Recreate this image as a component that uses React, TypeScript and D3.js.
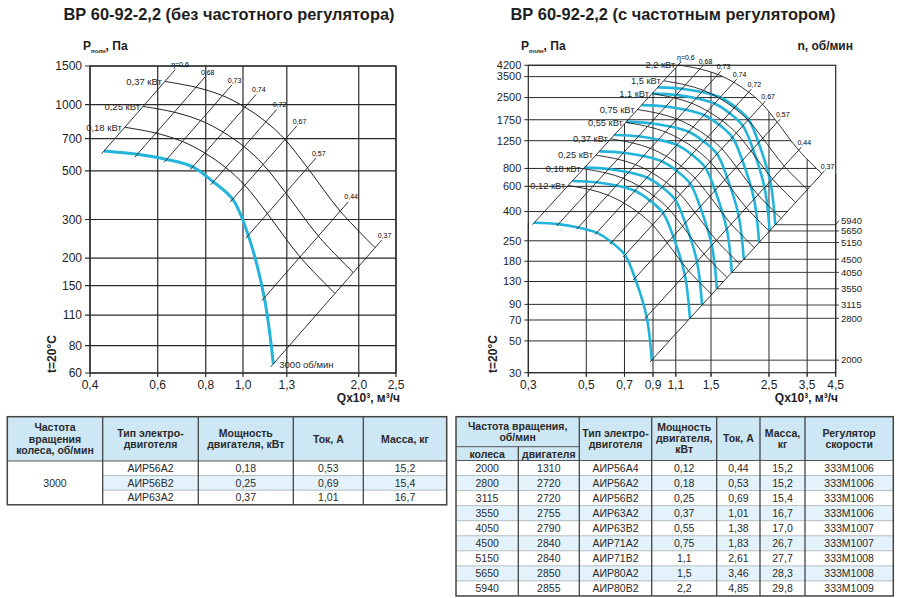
import React from 'react';
import * as d3 from 'd3';

type Pt = [number, number];

const FONT = '"Liberation Sans", Arial, Helvetica, sans-serif';
const BLUE = '#22b4da';
const INK = '#1e1e1e';
const HEAD_BG = '#cde7f5';
const ALT_BG = '#e4f3fb';

// ---------- common: efficiency lines ----------
const etaValues = [0.6, 0.68, 0.73, 0.74, 0.72, 0.67, 0.57, 0.44, 0.37];
const etaLabels = ['η=0,6', '0,68', '0,73', '0,74', '0,72', '0,67', '0,57', '0,44', '0,37'];

// ---------- left chart (3000 rpm) ----------
const leftTitle = 'ВР 60-92-2,2 (без частотного регулятора)';
const leftXTicks = [0.4, 0.6, 0.8, 1.0, 1.3, 2.0, 2.5];
const leftXTickLabels = ['0,4', '0,6', '0,8', '1,0', '1,3', '2,0', '2,5'];
const leftYTicks = [1500, 1000, 700, 500, 300, 200, 150, 110, 80, 60];
// fan curve at 3000 rpm: points where it meets each efficiency line (Q x10^3 m3/h, P Pa)
const leftFanQ = [0.435, 0.531, 0.633, 0.74, 0.837, 0.94, 1.032, 1.136, 1.199];
const leftFanP = [615, 594, 563, 521, 445, 371, 254, 132, 66];
// flow at the upper end of each efficiency line
const leftEtaTopQ = [0.666, 0.796, 0.935, 1.081, 1.224, 1.379, 1.548, 1.879, 2.295];
const leftPowerKW = [0.18, 0.25, 0.37];
const leftPowerLabels = ['0,18 кВт', '0,25 кВт', '0,37 кВт'];
const leftSpeedLabel = '3000 об/мин';

// ---------- right chart (with frequency regulator) ----------
const rightTitle = 'ВР 60-92-2,2 (с частотным регулятором)';
const rightXTicks = [0.3, 0.5, 0.7, 0.9, 1.1, 1.5, 2.5, 3.5, 4.5];
const rightXTickLabels = ['0,3', '0,5', '0,7', '0,9', '1,1', '1,5', '2,5', '3,5', '4,5'];
const rightYTicks = [4200, 3500, 2500, 1750, 1250, 800, 600, 400, 250, 180, 130, 90, 70, 50, 30];
const rightBaseSpeed = 2000;
// fan curve at 2000 rpm: points where it meets each efficiency line
const rightFanQ = [0.316, 0.391, 0.466, 0.548, 0.625, 0.703, 0.768, 0.851, 0.89];
const rightFanP = [334, 327, 310, 285, 244, 199, 137, 73.7, 36.7];
const rightSpeeds = [2000, 2800, 3115, 3550, 4050, 4500, 5150, 5650, 5940];
const rightPowerKW = [0.12, 0.18, 0.25, 0.37, 0.55, 0.75, 1.1, 1.5, 2.2];
const rightPowerLabels = ['0,12 кВт', '0,18 кВт', '0,25 кВт', '0,37 кВт', '0,55 кВт', '0,75 кВт', '1,1 кВт', '1,5 кВт', '2,2 кВт'];

// ---------- tables ----------
const leftWheelRpm = '3000';
const leftMotorType = ['АИР56А2', 'АИР56В2', 'АИР63А2'];
const leftMotorPower = ['0,18', '0,25', '0,37'];
const leftCurrent = ['0,53', '0,69', '1,01'];
const leftMass = ['15,2', '15,4', '16,7'];

const rightWheelRpm = ['2000', '2800', '3115', '3550', '4050', '4500', '5150', '5650', '5940'];
const rightMotorRpm = ['1310', '2720', '2720', '2755', '2790', '2840', '2840', '2850', '2855'];
const rightMotorType = ['АИР56А4', 'АИР56А2', 'АИР56В2', 'АИР63А2', 'АИР63В2', 'АИР71А2', 'АИР71В2', 'АИР80А2', 'АИР80В2'];
const rightMotorPower = ['0,12', '0,18', '0,25', '0,37', '0,55', '0,75', '1,1', '1,5', '2,2'];
const rightCurrent = ['0,44', '0,53', '0,69', '1,01', '1,38', '1,83', '2,61', '3,46', '4,85'];
const rightMass = ['15,2', '15,2', '15,4', '16,7', '17,0', '26,7', '27,7', '28,3', '29,8'];
const rightRegulator = ['333М1006', '333М1006', '333М1006', '333М1006', '333М1007', '333М1007', '333М1008', '333М1008', '333М1009'];

// fan laws: Q ~ n, P ~ n^2, N ~ n^3
const scaleFan = (p: Pt, r: number): Pt => [p[0] * r, p[1] * r * r];
const shaftKW = (q: number, p: number, eta: number) => ((q * 1000) / 3600) * p / eta / 1000;

function PLabel({ x, y }: { x: number; y: number }) {
  return (
    <text x={x} y={y} fontSize={12} fontWeight="bold" fill={INK}>
      P<tspan fontSize={6} dy={2.5}>полн</tspan>
      <tspan dy={-2.5}>, Па</tspan>
    </text>
  );
}

function LeftChart() {
  const X0 = 90, X1 = 396, Y0 = 66, Y1 = 373;
  const x = d3.scaleLog().domain([0.4, 2.5]).range([X0, X1]);
  const y = d3.scaleLog().domain([60, 1500]).range([Y1, Y0]);
  const line = d3.line<Pt>().x(d => x(d[0])).y(d => y(d[1])).curve(d3.curveCatmullRom.alpha(0.5));
  const base: Pt[] = leftFanQ.map((q, i) => [q, leftFanP[i]]);
  const n0 = base.map((b, i) => shaftKW(b[0], b[1], etaValues[i]));
  const arcs = leftPowerKW.map(N => base.map((b, i) => scaleFan(b, Math.cbrt(N / n0[i]))));
  const diags = base.map((b, i) => [scaleFan(b, 0.985), scaleFan(b, leftEtaTopQ[i] / b[0])] as Pt[]);
  const end = base[base.length - 1];
  return (
    <g>
      <text x={229} y={20} textAnchor="middle" fontSize={16.4} fontWeight="bold" fill={INK}>{leftTitle}</text>
      <PLabel x={83} y={50} />
      {leftYTicks.map(t => (
        <g key={t}>
          <line x1={X0 - 5} x2={X1} y1={y(t)} y2={y(t)} stroke="#2a2a2a" strokeWidth={1.2} />
          <text x={X0 - 8} y={y(t)} dy="0.35em" textAnchor="end" fontSize={12} fill={INK}>{t}</text>
        </g>
      ))}
      {leftXTicks.map((t, i) => (
        <g key={t}>
          <line x1={x(t)} x2={x(t)} y1={Y0} y2={Y1 + 4} stroke="#2a2a2a" strokeWidth={1.2} />
          <text x={x(t)} y={389} textAnchor="middle" fontSize={12} fill={INK}>{leftXTickLabels[i]}</text>
        </g>
      ))}
      <rect x={X0} y={Y0} width={X1 - X0} height={Y1 - Y0} fill="none" stroke="#2a2a2a" strokeWidth={1.3} />
      <path d={line(base) || ''} fill="none" stroke={BLUE} strokeWidth={3} />
      {arcs.map((a, i) => (
        <path key={i} d={line(a) || ''} fill="none" stroke={INK} strokeWidth={1} />
      ))}
      {diags.map((d, i) => (
        <line key={i} x1={x(d[0][0])} y1={y(d[0][1])} x2={x(d[1][0])} y2={y(d[1][1])} stroke={INK} strokeWidth={0.9} />
      ))}
      {diags.map((d, i) => (
        <text key={i} x={x(d[1][0]) - 4} y={y(d[1][1]) - 2.5} fontSize={7} fill="#000">{etaLabels[i]}</text>
      ))}
      {arcs.map((a, i) => (
        <text key={i} x={x(a[0][0]) - 3} y={y(a[0][1])} dy="0.35em" textAnchor="end" fontSize={9.5} fill={INK}>{leftPowerLabels[i]}</text>
      ))}
      <text x={x(end[0]) + 6} y={y(end[1]) + 4} fontSize={9.5} fill={INK}>{leftSpeedLabel}</text>
      <text transform={`translate(56,354) rotate(-90)`} textAnchor="middle" fontSize={12} fontWeight="bold" fill={INK}>t=20°C</text>
      <text x={400} y={402} textAnchor="end" fontSize={12} fontWeight="bold" fill={INK}>Qx10³, м³/ч</text>
    </g>
  );
}

function RightChart() {
  const X0 = 528.3, X1 = 835.7, Y0 = 65.3, Y1 = 372.7;
  const x = d3.scaleLog().domain([0.3, 4.5]).range([X0, X1]);
  const y = d3.scaleLog().domain([30, 4200]).range([Y1, Y0]);
  const line = d3.line<Pt>().x(d => x(d[0])).y(d => y(d[1])).curve(d3.curveCatmullRom.alpha(0.5));
  const base: Pt[] = rightFanQ.map((q, i) => [q, rightFanP[i]]);
  const n0 = base.map((b, i) => shaftKW(b[0], b[1], etaValues[i]));
  const arcs = rightPowerKW.map(N => base.map((b, i) => scaleFan(b, Math.cbrt(N / n0[i]))));
  const maxN = rightPowerKW[rightPowerKW.length - 1];
  const outer = arcs[arcs.length - 1];
  const diags = base.map((b, i) => [scaleFan(b, 0.985), scaleFan(b, Math.cbrt(maxN / n0[i]) * 1.025)] as Pt[]);
  const curves = rightSpeeds.map(n => base.map(b => scaleFan(b, n / rightBaseSpeed)));
  const px = (p: Pt) => [x(p[0]), y(p[1])];
  const outerPath = (line(outer) || '').replace(/^M/, 'L');
  const lo06 = px(base[0]);
  const lo037 = px(base[base.length - 1]);
  const outerEnd = px(outer[outer.length - 1]);
  const outerStart = px(outer[0]);
  const vClip = `M${X0 - 2},${Y1 + 8}L${X0 - 2},${lo06[1]}L${lo06[0]},${lo06[1]}${outerPath}L${X1 + 2},${outerEnd[1]}L${X1 + 2},${Y1 + 8}Z`;
  const hClip = `M${X0 - 12},${Y0 - 3}L${outerStart[0]},${Y0 - 3}${outerPath}L${lo037[0]},${lo037[1]}L${lo037[0]},${Y1 + 3}L${X0 - 12},${Y1 + 3}Z`;

  const ends = curves.map(c => px(c[c.length - 1]));
  const labelY = ends.map(e => e[1]);
  for (let i = 1; i < labelY.length; i++) labelY[i] = Math.min(labelY[i], labelY[i - 1] - 10.5);

  return (
    <g>
      <defs>
        <clipPath id="rvclip"><path d={vClip} /></clipPath>
        <clipPath id="rhclip"><path d={hClip} /></clipPath>
      </defs>
      <text x={673} y={20} textAnchor="middle" fontSize={16.4} fontWeight="bold" fill={INK}>{rightTitle}</text>
      <PLabel x={521} y={50} />
      <text x={853} y={50} textAnchor="end" fontSize={12} fontWeight="bold" fill={INK}>n, об/мин</text>
      <g clipPath="url(#rhclip)">
        {rightYTicks.map(t => (
          <line key={t} x1={X0 - 4} x2={X1} y1={y(t)} y2={y(t)} stroke="#2a2a2a" strokeWidth={1} />
        ))}
      </g>
      <g clipPath="url(#rvclip)">
        {rightXTicks.map(t => (
          <line key={t} x1={x(t)} x2={x(t)} y1={Y0} y2={Y1 + 4} stroke="#2a2a2a" strokeWidth={1} />
        ))}
      </g>
      {rightYTicks.map(t => (
        <text key={t} x={X0 - 7} y={y(t)} dy="0.35em" textAnchor="end" fontSize={11} fill={INK}>{t}</text>
      ))}
      {rightXTicks.map((t, i) => (
        <g key={t}>
          <line x1={x(t)} x2={x(t)} y1={Y1} y2={Y1 + 4} stroke="#2a2a2a" strokeWidth={1} />
          <text x={x(t)} y={389} textAnchor="middle" fontSize={12} fill={INK}>{rightXTickLabels[i]}</text>
        </g>
      ))}
      <rect x={X0} y={Y0} width={X1 - X0} height={Y1 - Y0} fill="none" stroke="#2a2a2a" strokeWidth={1.2} />
      {curves.map((c, i) => (
        <path key={i} d={line(c) || ''} fill="none" stroke={BLUE} strokeWidth={2.6} />
      ))}
      {arcs.map((a, i) => (
        <path key={i} d={line(a) || ''} fill="none" stroke={INK} strokeWidth={0.9} />
      ))}
      {diags.map((d, i) => (
        <line key={i} x1={x(d[0][0])} y1={y(d[0][1])} x2={x(d[1][0])} y2={y(d[1][1])} stroke={INK} strokeWidth={0.9} />
      ))}
      {diags.map((d, i) => (
        <text key={i} x={x(d[1][0]) - 4} y={y(d[1][1]) - 2} fontSize={7} fill="#000">{etaLabels[i]}</text>
      ))}
      {arcs.map((a, i) => (
        <text key={i} x={x(a[0][0]) - 3} y={y(a[0][1])} dy="0.35em" textAnchor="end" fontSize={9.3} fill={INK}>{rightPowerLabels[i]}</text>
      ))}
      {ends.map((e, i) => (
        <g key={i}>
          <polyline points={`${e[0]},${e[1]} ${X1},${e[1]} ${839},${labelY[i]}`} fill="none" stroke="#2a2a2a" strokeWidth={0.9} />
          <text x={841} y={labelY[i]} dy="0.35em" fontSize={9.5} fill={INK}>{rightSpeeds[i]}</text>
        </g>
      ))}
      <text transform={`translate(497,354) rotate(-90)`} textAnchor="middle" fontSize={12} fontWeight="bold" fill={INK}>t=20°C</text>
      <text x={838} y={402} textAnchor="end" fontSize={12} fontWeight="bold" fill={INK}>Qx10³, м³/ч</text>
    </g>
  );
}

function CellText({ x, y, lines, bold, size = 10.5, lh = 11.2 }: { x: number; y: number; lines: string[]; bold?: boolean; size?: number; lh?: number }) {
  const y0 = y - ((lines.length - 1) * lh) / 2;
  return (
    <text textAnchor="middle" fontSize={size} fontWeight={bold ? 'bold' : 'normal'} fill="#2a2a2a">
      {lines.map((l, i) => (
        <tspan key={i} x={x} y={y0 + i * lh} dy="0.35em">{l}</tspan>
      ))}
    </text>
  );
}

function LeftTable() {
  const cols = [7.3, 102.7, 198.3, 293.3, 363.3, 446.7];
  const top = 416.7, headB = 461, rowH = 14.6;
  const bottom = headB + rowH * leftMotorType.length;
  const cx = (i: number) => (cols[i] + cols[i + 1]) / 2;
  const headers = [
    ['Частота', 'вращения', 'колеса, об/мин'],
    ['Тип электро-', 'двиготеля'],
    ['Мощность', 'двигателя, кВт'],
    ['Ток, А'],
    ['Масса, кг'],
  ];
  return (
    <g>
      <rect x={cols[0]} y={top} width={cols[5] - cols[0]} height={headB - top} fill={HEAD_BG} />
      {leftMotorType.map((_, r) => r % 2 === 1 ? (
        <rect key={r} x={cols[1]} y={headB + r * rowH} width={cols[5] - cols[1]} height={rowH} fill={ALT_BG} />
      ) : null)}
      {leftMotorType.map((_, r) => r > 0 ? (
        <line key={r} x1={cols[1]} x2={cols[5]} y1={headB + r * rowH} y2={headB + r * rowH} stroke="#9aa4aa" strokeWidth={0.7} />
      ) : null)}
      <line x1={cols[0]} x2={cols[5]} y1={headB} y2={headB} stroke="#555" strokeWidth={1} />
      {cols.slice(1, 5).map((c, i) => (
        <line key={i} x1={c} x2={c} y1={top} y2={bottom} stroke="#444" strokeWidth={1.3} />
      ))}
      <rect x={cols[0]} y={top} width={cols[5] - cols[0]} height={bottom - top} fill="none" stroke="#444" strokeWidth={1.5} />
      {headers.map((h, i) => (
        <CellText key={i} x={cx(i)} y={(top + headB) / 2} lines={h} bold />
      ))}
      <CellText x={cx(0)} y={(headB + bottom) / 2} lines={[leftWheelRpm]} />
      {leftMotorType.map((m, r) => {
        const yy = headB + (r + 0.5) * rowH;
        return (
          <g key={r}>
            <CellText x={cx(1)} y={yy} lines={[m]} />
            <CellText x={cx(2)} y={yy} lines={[leftMotorPower[r]]} />
            <CellText x={cx(3)} y={yy} lines={[leftCurrent[r]]} />
            <CellText x={cx(4)} y={yy} lines={[leftMass[r]]} />
          </g>
        );
      })}
    </g>
  );
}

function RightTable() {
  const cols = [456, 518.3, 579.3, 651.7, 716.7, 760, 805, 893.3];
  const top = 416.7, groupB = 446.7, headB = 460.5, rowH = 15.05;
  const bottom = headB + rowH * rightWheelRpm.length;
  const cx = (i: number) => (cols[i] + cols[i + 1]) / 2;
  const headers = [
    ['Тип электро-', 'двиготеля'],
    ['Мощность', 'двигателя,', 'кВт'],
    ['Ток, А'],
    ['Масса,', 'кг'],
    ['Регулятор', 'скорости'],
  ];
  const columns = [rightWheelRpm, rightMotorRpm, rightMotorType, rightMotorPower, rightCurrent, rightMass, rightRegulator];
  return (
    <g>
      <rect x={cols[0]} y={top} width={cols[7] - cols[0]} height={headB - top} fill={HEAD_BG} />
      {rightWheelRpm.map((_, r) => r % 2 === 1 ? (
        <rect key={r} x={cols[0]} y={headB + r * rowH} width={cols[7] - cols[0]} height={rowH} fill={ALT_BG} />
      ) : null)}
      {rightWheelRpm.map((_, r) => r > 0 ? (
        <line key={r} x1={cols[0]} x2={cols[7]} y1={headB + r * rowH} y2={headB + r * rowH} stroke="#9aa4aa" strokeWidth={0.7} />
      ) : null)}
      <line x1={cols[0]} x2={cols[7]} y1={headB} y2={headB} stroke="#555" strokeWidth={1} />
      <line x1={cols[0]} x2={cols[2]} y1={groupB} y2={groupB} stroke="#555" strokeWidth={1} />
      <line x1={cols[1]} x2={cols[1]} y1={groupB} y2={bottom} stroke="#444" strokeWidth={1.3} />
      {cols.slice(2, 7).map((c, i) => (
        <line key={i} x1={c} x2={c} y1={top} y2={bottom} stroke="#444" strokeWidth={1.3} />
      ))}
      <rect x={cols[0]} y={top} width={cols[7] - cols[0]} height={bottom - top} fill="none" stroke="#444" strokeWidth={1.5} />
      <CellText x={(cols[0] + cols[2]) / 2} y={(top + groupB) / 2} lines={['Частота вращения,', 'об/мин']} bold />
      <CellText x={cx(0)} y={(groupB + headB) / 2 + 0.5} lines={['колеса']} bold />
      <CellText x={cx(1)} y={(groupB + headB) / 2 + 0.5} lines={['двигателя']} bold />
      {headers.map((h, i) => (
        <CellText key={i} x={cx(i + 2)} y={(top + headB) / 2} lines={h} bold />
      ))}
      {rightWheelRpm.map((_, r) => {
        const yy = headB + (r + 0.5) * rowH;
        return (
          <g key={r}>
            {columns.map((col, c) => (
              <CellText key={c} x={cx(c)} y={yy} lines={[col[r]]} />
            ))}
          </g>
        );
      })}
    </g>
  );
}

export default function App() {
  return (
    <svg
      width={900}
      height={598}
      viewBox="0 0 900 598"
      style={{ position: 'absolute', left: 0, top: 0, background: '#fff' }}
      fontFamily={FONT}
    >
      <rect width={900} height={598} fill="#fff" />
      <LeftChart />
      <RightChart />
      <LeftTable />
      <RightTable />
    </svg>
  );
}
